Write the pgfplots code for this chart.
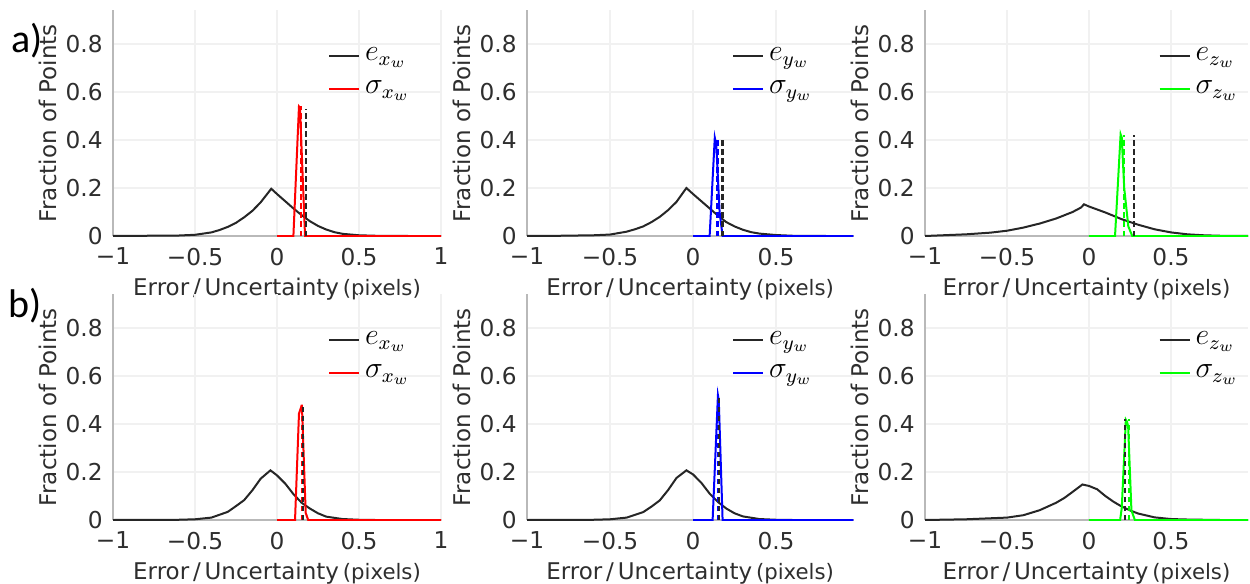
\documentclass[border=0pt]{standalone}
\usepackage{fontspec}
\setmainfont{DejaVu Sans}
\newfontfamily\labfont{Carlito}
\usepackage{pgfplots}
\pgfplotsset{compat=1.18}

\definecolor{txt}{gray}{0.18}
\definecolor{crv}{gray}{0.15}

\pgfplotsset{
  panel/.style={
    scale only axis, height=90.2pt,
    ymin=0, ymax=0.94,
    axis lines=left, axis line style={-, gray!55, line width=0.6pt},
    major tick length=0pt,
    grid=major, major grid style={gray!11, line width=0.5pt},
    ytick={0,0.2,0.4,0.6,0.8}, yticklabels={0,0.2,0.4,0.6,0.8},
    tick label style={font=\fontsize{9.3}{10}\selectfont, color=txt},
    xticklabel style={yshift=-1.2pt},
    yticklabel style={xshift=-0.6pt},
    ylabel={Fraction of Points},
    xlabel={Error\,/\,Uncertainty\,{\fontsize{8.5}{9}\selectfont(pixels)}},
    label style={font=\fontsize{9.2}{10}\selectfont, color=txt},
    ylabel style={yshift=-3.4pt},
    xlabel style={yshift=1.8pt},
    legend cell align=left,
    legend style={draw=none, fill=none, font=\fontsize{12}{13}\selectfont,
      anchor=north east, row sep=2.5pt, inner sep=1pt},
    legend image code/.code={\draw[#1] (0cm,0cm) -- (0.42cm,0cm);},
    every axis plot/.append style={line width=0.8pt},
  },
  ecurve/.style={crv},
  dline/.style={dash pattern=on 2.2pt off 1.4pt, line width=0.9pt, forget plot},
  xfull/.style={xmin=-1, xmax=1, width=131.2pt,
    xtick={-1,-0.5,0,0.5,1}, xticklabels={−1,−0.5,0,0.5,1}},
  xpart/.style={xmin=-1, xmax=#1, xtick={-1,-0.5,0,0.5}, xticklabels={−1,−0.5,0,0.5}},
}

\begin{document}
\begin{tikzpicture}
\useasboundingbox (0,0) rectangle (500pt,233.2pt);

\node[font=\labfont\fontsize{16}{17}\selectfont] at (10.8pt,217pt) {a)};
\node[font=\labfont\fontsize{16}{17}\selectfont] at (10.2pt,110.8pt) {b)};

% ---- row a ----
\begin{axis}[panel, xfull, at={(45.2pt,138.8pt)}, anchor=south west,
  legend style={at={(rel axis cs:0.93,0.87)}}]
\addplot[ecurve] coordinates {(-1,0) (-0.8,0.001) (-0.6,0.002) (-0.5,0.005) (-0.4,0.015) (-0.35,0.025) (-0.3,0.038) (-0.25,0.055) (-0.2,0.078) (-0.15,0.105) (-0.1,0.14) (-0.035,0.197) (0,0.175) (0.05,0.145) (0.1,0.115) (0.15,0.087) (0.2,0.062) (0.25,0.042) (0.3,0.027) (0.35,0.016) (0.4,0.009) (0.5,0.003) (0.6,0.001) (0.8,0) (1,0)};
\addlegendentry{$e_{x_w}$}
\addplot[red] coordinates {(0,0) (0.1,0) (0.134,0.54) (0.14,0.535) (0.171,0) (1,0)};
\addlegendentry{$\sigma_{x_w}$}
\addplot[red, dline] coordinates {(0.145,0) (0.145,0.54)};
\addplot[crv, dline] coordinates {(0.179,0) (0.179,0.53)};
\end{axis}

\begin{axis}[panel, xpart=0.965, width=130.5pt, at={(210.8pt,138.8pt)}, anchor=south west,
  legend style={at={(rel axis cs:0.90,0.87)}}]
\addplot[ecurve] coordinates {(-1,0) (-0.8,0.001) (-0.6,0.003) (-0.5,0.006) (-0.4,0.018) (-0.35,0.028) (-0.3,0.04) (-0.25,0.058) (-0.2,0.08) (-0.15,0.108) (-0.1,0.142) (-0.04,0.2) (0,0.175) (0.05,0.145) (0.1,0.115) (0.15,0.085) (0.2,0.058) (0.25,0.04) (0.3,0.026) (0.35,0.016) (0.4,0.01) (0.5,0.004) (0.6,0.001) (0.8,0) (0.965,0)};
\addlegendentry{$e_{y_w}$}
\addplot[blue] coordinates {(0,0) (0.1,0) (0.131,0.41) (0.14,0.38) (0.16,0.1) (0.178,0) (0.965,0)};
\addlegendentry{$\sigma_{y_w}$}
\addplot[blue, dline] coordinates {(0.148,0) (0.148,0.41)};
\addplot[crv, dline] coordinates {(0.178,0) (0.178,0.41)};
\end{axis}

\begin{axis}[panel, xpart=0.97, width=129.2pt, at={(370pt,138.8pt)}, anchor=south west,
  legend style={at={(rel axis cs:0.995,0.87)}}]
\addplot[ecurve] coordinates {(-1,0) (-0.75,0.007) (-0.6,0.014) (-0.5,0.022) (-0.4,0.035) (-0.3,0.052) (-0.2,0.073) (-0.1,0.1) (-0.05,0.118) (-0.03,0.132) (0,0.123) (0.1,0.098) (0.2,0.07) (0.3,0.047) (0.4,0.028) (0.5,0.015) (0.6,0.007) (0.7,0.003) (0.8,0.001) (0.97,0)};
\addlegendentry{$e_{z_w}$}
\addplot[green] coordinates {(0,0) (0.159,0) (0.193,0.424) (0.2,0.41) (0.215,0.2) (0.24,0.04) (0.264,0) (0.97,0)};
\addlegendentry{$\sigma_{z_w}$}
\addplot[green, dline] coordinates {(0.215,0) (0.215,0.42)};
\addplot[crv, dline] coordinates {(0.274,0) (0.274,0.42)};
\end{axis}

% ---- row b ----
\begin{axis}[panel, xfull, at={(45.2pt,25.2pt)}, anchor=south west,
  legend style={at={(rel axis cs:0.93,0.87)}}]
\addplot[ecurve] coordinates {(-1,0) (-0.8,0.0005) (-0.6,0.001) (-0.5,0.003) (-0.4,0.01) (-0.3,0.034) (-0.25,0.058) (-0.2,0.083) (-0.15,0.124) (-0.1,0.172) (-0.04,0.207) (0,0.186) (0.05,0.152) (0.1,0.108) (0.15,0.072) (0.2,0.048) (0.25,0.028) (0.3,0.014) (0.4,0.004) (0.5,0.001) (0.6,0) (1,0)};
\addlegendentry{$e_{x_w}$}
\addplot[red] coordinates {(0,0) (0.11,0) (0.134,0.443) (0.15,0.477) (0.152,0.477) (0.175,0.03) (0.19,0) (1,0)};
\addlegendentry{$\sigma_{x_w}$}
\addplot[red, dline] coordinates {(0.152,0) (0.152,0.477)};
\addplot[crv, dline] coordinates {(0.158,0) (0.158,0.477)};
\end{axis}

\begin{axis}[panel, xpart=0.965, width=130.5pt, at={(210.8pt,25.2pt)}, anchor=south west,
  legend style={at={(rel axis cs:0.90,0.87)}}]
\addplot[ecurve] coordinates {(-1,0) (-0.8,0.0005) (-0.6,0.001) (-0.5,0.003) (-0.4,0.01) (-0.3,0.033) (-0.25,0.056) (-0.2,0.082) (-0.15,0.125) (-0.1,0.175) (-0.04,0.207) (0,0.19) (0.05,0.155) (0.1,0.11) (0.15,0.075) (0.2,0.048) (0.25,0.028) (0.3,0.015) (0.4,0.004) (0.5,0.001) (0.6,0) (0.965,0)};
\addlegendentry{$e_{y_w}$}
\addplot[blue] coordinates {(0,0) (0.118,0) (0.15,0.52) (0.155,0.5) (0.178,0) (0.965,0)};
\addlegendentry{$\sigma_{y_w}$}
\addplot[blue, dline] coordinates {(0.15,0) (0.15,0.52)};
\addplot[crv, dline] coordinates {(0.157,0) (0.157,0.52)};
\end{axis}

\begin{axis}[panel, xpart=0.97, width=129.2pt, at={(370pt,25.2pt)}, anchor=south west,
  legend style={at={(rel axis cs:0.995,0.87)}}]
\addplot[ecurve] coordinates {(-1,0) (-0.75,0.003) (-0.5,0.01) (-0.4,0.02) (-0.3,0.041) (-0.2,0.072) (-0.15,0.092) (-0.1,0.117) (-0.04,0.148) (0,0.142) (0.05,0.128) (0.1,0.1) (0.15,0.076) (0.2,0.056) (0.25,0.04) (0.3,0.027) (0.4,0.011) (0.5,0.004) (0.6,0.002) (0.8,0) (0.97,0)};
\addlegendentry{$e_{z_w}$}
\addplot[green] coordinates {(0,0) (0.19,0) (0.2,0.05) (0.225,0.418) (0.232,0.41) (0.239,0.39) (0.259,0.04) (0.28,0) (0.97,0)};
\addlegendentry{$\sigma_{z_w}$}
\addplot[green, dline] coordinates {(0.242,0) (0.242,0.42)};
\addplot[crv, dline] coordinates {(0.218,0) (0.218,0.42)};
\end{axis}
\end{tikzpicture}
\end{document}
